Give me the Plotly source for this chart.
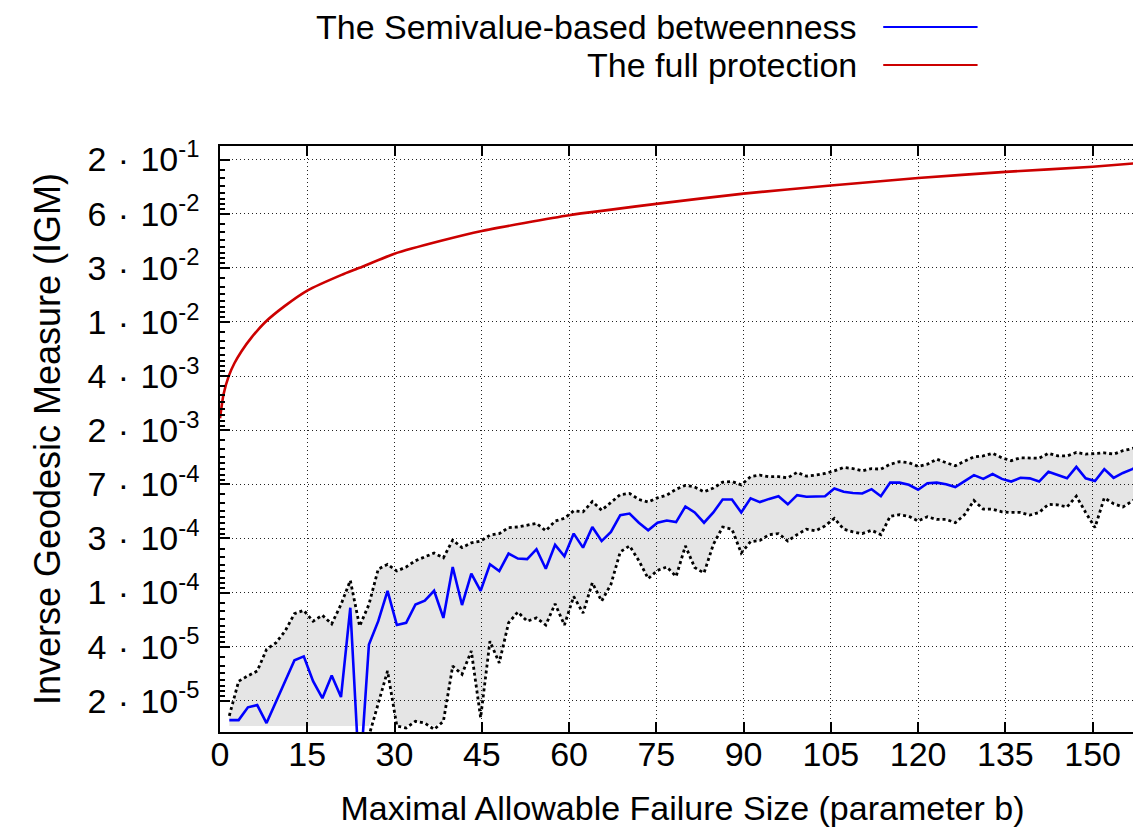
import plotly.graph_objects as go

# ---------------- data ----------------
b_values = [1.6, 3.2, 4.8, 6.4, 8.0, 9.6, 11.2, 12.8, 14.4, 16.0,
            17.6, 19.2, 20.8, 22.4, 24.0, 25.6, 27.2, 28.8, 30.4, 32.0,
            33.6, 35.2, 36.8, 38.4, 40.0, 41.6, 43.2, 44.8, 46.4, 48.0,
            49.6, 51.2, 52.8, 54.4, 56.0, 57.6, 59.2, 60.8, 62.4, 64.0,
            65.6, 67.2, 68.8, 70.4, 72.0, 73.6, 75.2, 76.8, 78.4, 80.0,
            81.6, 83.2, 84.8, 86.4, 88.0, 89.6, 91.2, 92.8, 94.4, 96.0,
            97.6, 99.2, 100.8, 102.4, 104.0, 105.6, 107.2, 108.8, 110.4, 112.0,
            113.6, 115.2, 116.8, 118.4, 120.0, 121.6, 123.2, 124.8, 126.4, 128.0,
            129.6, 131.2, 132.8, 134.4, 136.0, 137.6, 139.2, 140.8, 142.4, 144.0,
            145.6, 147.2, 148.8, 150.4, 152.0, 153.6, 155.2, 156.8, 158.4, 160.0]

semivalue_igm = [1.44e-5, 1.44e-5, 1.79e-5, 1.86e-5, 1.37e-5, 1.96e-5, 2.79e-5, 3.99e-5, 4.26e-5, 2.79e-5,
                 2.09e-5, 3.08e-5, 2.13e-5, 9.75e-5, 5.0e-6, 5.21e-5, 7.75e-5, 1.30e-4, 7.26e-5, 7.53e-5,
                 1.03e-4, 1.10e-4, 1.30e-4, 8.19e-5, 1.95e-4, 1.02e-4, 1.74e-4, 1.30e-4, 2.04e-4, 1.82e-4,
                 2.45e-4, 2.25e-4, 2.23e-4, 2.64e-4, 1.89e-4, 2.84e-4, 2.34e-4, 3.44e-4, 2.71e-4, 3.85e-4,
                 3.03e-4, 3.54e-4, 4.71e-4, 4.84e-4, 4.14e-4, 3.64e-4, 4.14e-4, 4.30e-4, 4.18e-4, 5.46e-4,
                 4.93e-4, 4.14e-4, 4.93e-4, 6.15e-4, 6.15e-4, 4.93e-4, 6.27e-4, 5.88e-4, 6.21e-4, 6.50e-4,
                 5.66e-4, 6.62e-4, 6.44e-4, 6.44e-4, 6.50e-4, 7.40e-4, 7.00e-4, 6.87e-4, 6.81e-4, 7.33e-4,
                 6.50e-4, 8.19e-4, 8.19e-4, 7.89e-4, 7.26e-4, 8.11e-4, 8.19e-4, 7.96e-4, 7.60e-4, 8.41e-4,
                 9.31e-4, 8.73e-4, 9.48e-4, 8.73e-4, 8.34e-4, 8.89e-4, 8.81e-4, 8.34e-4, 9.84e-4, 9.31e-4,
                 8.81e-4, 1.07e-3, 8.81e-4, 8.41e-4, 1.03e-3, 8.89e-4, 9.66e-4, 1.03e-3, 1.12e-3, 9.23e-4]

upper_igm = [1.55e-5, 2.79e-5, 3.06e-5, 3.32e-5, 4.80e-5, 5.36e-5, 6.56e-5, 8.81e-5, 9.31e-5, 7.75e-5,
             8.57e-5, 7.40e-5, 1.03e-4, 1.55e-4, 7.13e-5, 1.03e-4, 1.88e-4, 2.04e-4, 1.82e-4, 1.95e-4,
             2.17e-4, 2.30e-4, 2.47e-4, 2.28e-4, 3.08e-4, 2.71e-4, 2.94e-4, 3.03e-4, 3.35e-4, 3.44e-4,
             3.81e-4, 3.85e-4, 3.95e-4, 4.10e-4, 3.61e-4, 4.26e-4, 4.46e-4, 5.07e-4, 4.98e-4, 5.93e-4,
             5.12e-4, 5.82e-4, 6.68e-4, 6.81e-4, 6.15e-4, 5.88e-4, 6.32e-4, 6.62e-4, 7.33e-4, 7.82e-4,
             7.60e-4, 7.00e-4, 7.47e-4, 8.26e-4, 8.34e-4, 7.89e-4, 9.06e-4, 9.31e-4, 9.06e-4, 9.06e-4,
             8.89e-4, 9.75e-4, 9.14e-4, 9.31e-4, 9.57e-4, 1.00e-3, 1.06e-3, 1.04e-3, 1.00e-3, 1.04e-3,
             1.03e-3, 1.12e-3, 1.17e-3, 1.15e-3, 1.08e-3, 1.12e-3, 1.22e-3, 1.15e-3, 1.09e-3, 1.18e-3,
             1.27e-3, 1.29e-3, 1.35e-3, 1.25e-3, 1.19e-3, 1.25e-3, 1.25e-3, 1.24e-3, 1.35e-3, 1.29e-3,
             1.29e-3, 1.37e-3, 1.33e-3, 1.35e-3, 1.36e-3, 1.33e-3, 1.41e-3, 1.46e-3, 1.55e-3, 1.49e-3]

lower_igm = [8.0e-6, 8.0e-6, 8.0e-6, 8.0e-6, 8.0e-6, 8.0e-6, 8.0e-6, 8.0e-6, 8.0e-6, 8.0e-6,
             8.0e-6, 8.0e-6, 8.0e-6, 8.0e-6, 8.0e-6, 1.10e-5, 1.95e-5, 3.32e-5, 1.30e-5, 1.26e-5,
             1.41e-5, 1.37e-5, 1.23e-5, 1.41e-5, 3.61e-5, 3.14e-5, 4.67e-5, 1.50e-5, 5.51e-5, 3.81e-5,
             7.53e-5, 9.06e-5, 7.75e-5, 8.19e-5, 7.26e-5, 1.04e-4, 7.26e-5, 1.18e-4, 8.89e-5, 1.49e-4,
             1.09e-4, 1.45e-4, 2.52e-4, 2.79e-4, 2.17e-4, 1.60e-4, 1.84e-4, 1.95e-4, 1.66e-4, 2.79e-4,
             1.93e-4, 1.76e-4, 2.86e-4, 3.85e-4, 3.71e-4, 2.47e-4, 3.00e-4, 3.06e-4, 3.38e-4, 3.44e-4,
             3.03e-4, 3.38e-4, 3.71e-4, 3.61e-4, 3.92e-4, 4.46e-4, 3.71e-4, 3.54e-4, 3.44e-4, 3.64e-4,
             3.38e-4, 4.62e-4, 4.75e-4, 4.62e-4, 4.26e-4, 4.58e-4, 4.38e-4, 4.38e-4, 4.14e-4, 4.75e-4,
             6.04e-4, 5.21e-4, 5.21e-4, 4.98e-4, 4.93e-4, 4.93e-4, 4.71e-4, 4.93e-4, 5.66e-4, 5.61e-4,
             5.41e-4, 6.50e-4, 4.93e-4, 3.81e-4, 6.32e-4, 5.72e-4, 5.41e-4, 5.98e-4, 6.62e-4, 5.72e-4]

full_b = [0, 0.6, 1.5, 2.5, 3.7, 5.4, 7.8, 11.1, 15.0, 20.9, 24.0, 30.0, 38.0, 45.0,
          60.0, 75.0, 90.0, 105.0, 120.0, 135.0, 150.0, 158.4]
full_protection_igm = [2.45e-3, 3.67e-3, 5.02e-3, 6.27e-3, 7.67e-3, 9.66e-3, 1.26e-2, 1.65e-2,
                       2.15e-2, 2.81e-2, 3.17e-2, 4.03e-2, 5.02e-2, 5.93e-2, 7.75e-2, 9.40e-2,
                       0.112, 0.1285, 0.146, 0.162, 0.177, 0.189]

x_tick_vals = [0, 15, 30, 45, 60, 75, 90, 105, 120, 135, 150]
y_tick_vals = [2.0e-5, 5.024e-5, 1.262e-4, 3.170e-4, 7.962e-4, 2.0e-3,
               5.024e-3, 1.262e-2, 3.170e-2, 7.962e-2, 0.2]
y_tick_mantissa = ["2", "4", "1", "3", "7", "2", "4", "1", "3", "6", "2"]
y_tick_exponent = ["-5", "-5", "-4", "-4", "-4", "-3", "-3", "-2", "-2", "-2", "-1"]
y_tick_text = [m + "\u2004·\u200410<sup>" + e + "</sup>"
               for m, e in zip(y_tick_mantissa, y_tick_exponent)]

series_names = ["The Semivalue-based betweenness", "The full protection"]
series_colors = ["#0000ff", "#cc0000"]

# ---------------- styling ----------------
FONT = "Liberation Sans, Arial, Helvetica, sans-serif"
fill_floor = 1.3e-5          # the shaded band stops slightly above the bottom frame
band_lower_for_fill = [max(v, fill_floor) for v in lower_igm]

# minor ticks: subdivide each major interval
minor_vals = []
for lo, hi in zip(y_tick_vals[:-1], y_tick_vals[1:]):
    n = 8
    for j in range(1, n):
        g = 1.0 / hi + j * (1.0 / lo - 1.0 / hi) / n
        minor_vals.append(1.0 / g)

fig = go.Figure()

fig.add_trace(go.Scatter(x=b_values, y=band_lower_for_fill, mode="lines",
                         line=dict(width=0, color="rgba(0,0,0,0)"),
                         hoverinfo="skip", showlegend=False))
fig.add_trace(go.Scatter(x=b_values, y=upper_igm, mode="lines", fill="tonexty",
                         fillcolor="rgba(0,0,0,0.1)",
                         line=dict(color="black", width=2.8, dash="3px,3px"),
                         showlegend=False))
fig.add_trace(go.Scatter(x=b_values, y=lower_igm, mode="lines",
                         line=dict(color="black", width=2.8, dash="3px,3px"),
                         showlegend=False))
fig.add_trace(go.Scatter(x=b_values, y=semivalue_igm, mode="lines",
                         name=series_names[0],
                         line=dict(color=series_colors[0], width=2.6),
                         showlegend=False))
fig.add_trace(go.Scatter(x=full_b, y=full_protection_igm, mode="lines",
                         name=series_names[1], line_shape="spline",
                         line=dict(color=series_colors[1], width=2.6, smoothing=0.5),
                         showlegend=False))

# legend drawn gnuplot-style: text on the left, line sample on the right
legend_rows_y = [1.2031, 1.1382]
for name, color, yy in zip(series_names, series_colors, legend_rows_y):
    fig.add_annotation(xref="paper", yref="paper", x=0.690, y=yy, text=name,
                       showarrow=False, xanchor="right", yanchor="middle",
                       borderpad=0,
                       font=dict(family=FONT, size=34, color="black"))
    fig.add_shape(type="line", xref="paper", yref="paper", x0=0.717, x1=0.819,
                  y0=yy, y1=yy, line=dict(color=color, width=2))

fig.update_layout(
    width=1141, height=836,
    margin=dict(l=212, r=2, t=138, b=112),
    paper_bgcolor="white", plot_bgcolor="white",
    font=dict(family=FONT, size=34, color="black"),
    showlegend=False,
)

fig.update_xaxes(
    range=[0, 159], tickmode="array", tickvals=x_tick_vals,
    ticks="inside", ticklen=10, tickwidth=1.5, tickcolor="black",
    showline=True, linecolor="black", linewidth=1.5, mirror="ticks",
    showgrid=True, gridcolor="#222222", gridwidth=1, griddash="1px,3px",
    zeroline=False, ticklabelstandoff=-9,
    tickfont=dict(family=FONT, size=34),
    title=dict(text="Maximal Allowable Failure Size (parameter b)",
               font=dict(family=FONT, size=34), standoff=25),
)
fig.update_yaxes(
    type="log", range=[-4.9296, -0.599],
    tickmode="array", tickvals=y_tick_vals, ticktext=y_tick_text,
    ticks="inside", ticklen=10, tickwidth=1.5, tickcolor="black",
    showline=True, linecolor="black", linewidth=1.5, mirror="ticks",
    showgrid=True, gridcolor="#222222", gridwidth=1, griddash="1px,3px",
    zeroline=False, ticklabelstandoff=12,
    minor=dict(tickmode="array", tickvals=minor_vals, ticks="inside",
               ticklen=5, tickwidth=1.5, tickcolor="black", showgrid=False),
    tickfont=dict(family=FONT, size=34),
    title=dict(text="Inverse Geodesic Measure (IGM)",
               font=dict(family=FONT, size=36), standoff=16),
)

fig.write_html("out.html")
